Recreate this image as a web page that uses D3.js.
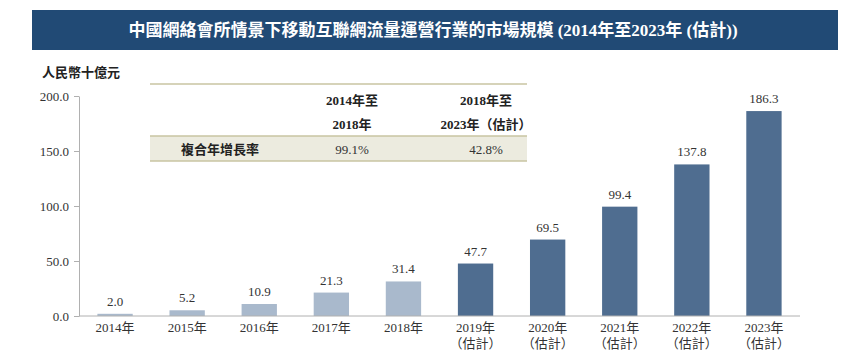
<!DOCTYPE html>
<html>
<head>
<meta charset="utf-8">
<script src="https://cdn.jsdelivr.net/npm/d3@7"></script>
<style>
  body { margin: 0; background: #fff; }
  text { font-family: "Liberation Serif", "Noto Sans CJK TC", serif; }
</style>
</head>
<body>
<div id="chart"></div>
<script>
var years = ["2014年", "2015年", "2016年", "2017年", "2018年", "2019年", "2020年", "2021年", "2022年", "2023年"];
var estimated = [false, false, false, false, false, true, true, true, true, true];
var values = [2.0, 5.2, 10.9, 21.3, 31.4, 47.7, 69.5, 99.4, 137.8, 186.3];
var yTicks = [0, 50, 100, 150, 200];
var cagrHead1 = ["2014年至", "2018年至"];
var cagrHead2 = ["2018年", "2023年（估計）"];
var cagrLabel = "複合年增長率";
var cagrValues = ["99.1%", "42.8%"];

var svg = d3.select("#chart").append("svg").attr("width", 864).attr("height", 358);

// title bar
svg.append("rect").attr("x", 32).attr("y", 10).attr("width", 806).attr("height", 40).attr("fill", "#214a75");
svg.append("text").attr("x", 433).attr("y", 36).attr("text-anchor", "middle")
  .attr("fill", "#fff").attr("font-size", 17).attr("font-weight", "bold")
  .text("中國網絡會所情景下移動互聯網流量運營行業的市場規模 (2014年至2023年 (估計))");

svg.append("text").attr("x", 42).attr("y", 77).attr("font-size", 13).attr("font-weight", "bold")
  .attr("fill", "#222").text("人民幣十億元");

var x = d3.scaleBand().domain(years).range([79, 800]).paddingInner(0.51).paddingOuter(0.255);
var y = d3.scaleLinear().domain([0, 200]).range([316, 96]);

// y axis
var yAxis = svg.append("g").attr("transform", "translate(79,0)")
  .call(d3.axisLeft(y).tickValues(yTicks).tickFormat(d3.format(".1f")).tickSize(5).tickSizeOuter(0));
yAxis.select(".domain").attr("stroke", "#b0b0b0");
yAxis.selectAll(".tick line").attr("stroke", "#b0b0b0");
yAxis.selectAll(".tick text").attr("font-size", 13).attr("fill", "#333").attr("x", -10)
  .style("font-family", "'Liberation Serif', serif");

// bars
svg.selectAll(".bar").data(values).enter().append("rect")
  .attr("x", function(d, i) { return x(years[i]); })
  .attr("y", function(d) { return y(d); })
  .attr("width", x.bandwidth())
  .attr("height", function(d) { return y(0) - y(d); })
  .attr("fill", function(d, i) { return estimated[i] ? "#4f6d90" : "#a9b9cc"; });

svg.selectAll(".val").data(values).enter().append("text")
  .attr("x", function(d, i) { return x(years[i]) + x.bandwidth() / 2; })
  .attr("y", function(d) { return y(d) - 8; })
  .attr("text-anchor", "middle").attr("font-size", 13).attr("fill", "#333")
  .text(function(d) { return d.toFixed(1); });

// x axis
svg.append("line").attr("x1", 79).attr("x2", 800).attr("y1", 316).attr("y2", 316).attr("stroke", "#b0b0b0");
svg.selectAll(".xl").data(years).enter().append("text")
  .attr("x", function(d) { return x(d) + x.bandwidth() / 2; })
  .attr("y", 332).attr("text-anchor", "middle").attr("font-size", 13).attr("fill", "#333")
  .text(function(d) { return d; });
svg.selectAll(".xe").data(years.filter(function(d, i) { return estimated[i]; })).enter().append("text")
  .attr("x", function(d) { return x(d) + x.bandwidth() / 2; })
  .attr("y", 348).attr("text-anchor", "middle").attr("font-size", 13).attr("fill", "#333")
  .text("（估計）");

// CAGR table
var colX = [352, 486];
svg.append("rect").attr("x", 150).attr("y", 136).attr("width", 377).attr("height", 25).attr("fill", "#ecebdf");
[84, 136, 161].forEach(function(ly) {
  svg.append("line").attr("x1", 150).attr("x2", 527).attr("y1", ly).attr("y2", ly)
    .attr("stroke", "#c8c4a2").attr("stroke-width", 1.5);
});
svg.selectAll(".h1").data(cagrHead1).enter().append("text")
  .attr("x", function(d, i) { return colX[i]; }).attr("y", 105)
  .attr("text-anchor", "middle").attr("font-size", 13).attr("font-weight", "bold").attr("fill", "#222")
  .text(function(d) { return d; });
svg.selectAll(".h2").data(cagrHead2).enter().append("text")
  .attr("x", function(d, i) { return colX[i]; }).attr("y", 129)
  .attr("text-anchor", "middle").attr("font-size", 13).attr("font-weight", "bold").attr("fill", "#222")
  .text(function(d) { return d; });
svg.append("text").attr("x", 220).attr("y", 154).attr("text-anchor", "middle")
  .attr("font-size", 13).attr("font-weight", "bold").attr("fill", "#222").text(cagrLabel);
svg.selectAll(".cv").data(cagrValues).enter().append("text")
  .attr("x", function(d, i) { return colX[i]; }).attr("y", 154)
  .attr("text-anchor", "middle").attr("font-size", 13).attr("fill", "#333")
  .text(function(d) { return d; });
</script>
</body>
</html>
